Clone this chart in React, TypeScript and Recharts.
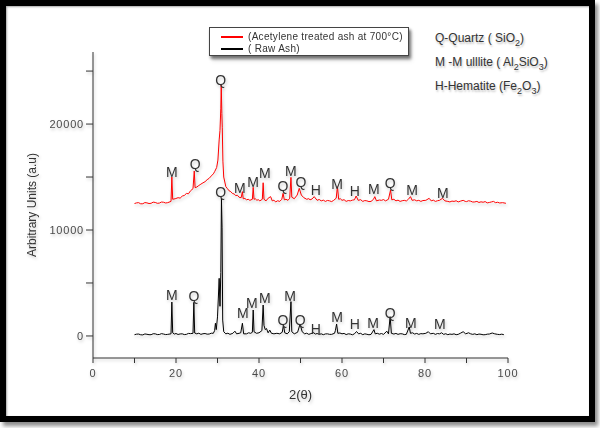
import React from 'react';
import { ComposedChart, Line, XAxis, YAxis, ReferenceDot, Legend, Label } from 'recharts';

// ---- Data (2θ in degrees, intensity in a.u.) ----
const rawX = [10, 10.5, 11, 11.5, 12, 12.5, 13, 13.5, 14, 14.5, 15, 15.5, 16, 16.5, 17, 17.5, 18, 18.8, 19.0, 19.2, 19.6, 20.0, 20.5, 21.0, 21.5, 22.0, 22.5, 23.0, 23.5, 24.1, 24.3, 24.5, 25, 25.5, 26, 26.5, 27, 27.5, 28, 28.5, 29, 29.3, 29.5, 29.7, 30.0, 30.2, 30.4, 30.6, 30.8, 30.95, 31.1, 31.25, 31.5, 32, 32.5, 33, 33.7, 34.2, 34.6, 35.2, 35.6, 36.0, 36.3, 37, 37.5, 38, 38.4, 38.6, 38.8, 39.4, 40, 40.7, 41.0, 41.2, 41.5, 41.8, 42.2, 42.6, 43.0, 43.6, 44.3, 45.0, 45.6, 45.9, 46.2, 46.8, 47.3, 47.7, 47.9, 48.5, 49.3, 49.9, 50.4, 51, 51.5, 52, 52.5, 53.1, 53.6, 54, 54.5, 55, 55.5, 56, 56.5, 57, 57.5, 58.2, 58.4, 58.7, 59.0, 59.5, 60, 60.5, 61, 61.5, 62, 62.5, 63.0, 63.5, 64.0, 64.5, 65, 65.5, 66, 66.5, 67, 67.7, 68.0, 68.5, 69, 69.5, 70, 70.8, 71.2, 71.6, 71.9, 72.5, 73, 73.5, 74, 74.5, 75, 75.5, 76.2, 76.5, 77, 77.5, 78, 78.5, 79, 79.5, 80.2, 80.8, 81.3, 82, 82.5, 83, 83.5, 84.0, 84.5, 85, 85.5, 86, 86.5, 87, 87.5, 88, 88.5, 89.2, 89.8, 90.5, 91, 91.5, 92, 92.5, 93, 93.5, 94, 94.5, 95, 95.5, 96.2, 96.8, 97.5, 98, 98.5, 99];
const rawY = [120, 170, 180, 110, 100, 190, 160, 120, 120, 210, 200, 130, 140, 220, 180, 130, 150, 200, 3200, 300, 180, 230, 140, 190, 200, 130, 150, 240, 220, 250, 3170, 280, 200, 260, 150, 210, 230, 170, 180, 260, 250, 500, 1200, 600, 1800, 3580, 5440, 2800, 6000, 13000, 10200, 1500, 400, 200, 260, 150, 250, 450, 200, 250, 300, 1200, 200, 200, 300, 250, 350, 2450, 400, 250, 300, 500, 2920, 1000, 600, 700, 300, 550, 250, 200, 250, 200, 350, 1040, 300, 200, 400, 3240, 400, 200, 350, 1130, 400, 200, 260, 150, 220, 320, 180, 230, 150, 200, 120, 190, 200, 150, 150, 250, 500, 1130, 250, 280, 200, 240, 130, 200, 180, 110, 200, 420, 200, 250, 120, 200, 160, 110, 150, 600, 200, 250, 170, 230, 150, 450, 200, 1820, 250, 180, 240, 150, 210, 200, 130, 150, 850, 250, 300, 180, 240, 150, 220, 200, 250, 400, 200, 250, 150, 230, 200, 300, 150, 210, 120, 180, 150, 200, 120, 150, 250, 400, 200, 300, 200, 150, 200, 120, 180, 160, 110, 120, 170, 180, 280, 200, 150, 130, 170, 120];

const treatedX = [10, 10.5, 11, 11.5, 12, 12.5, 13, 13.5, 14, 14.5, 15, 15.5, 16, 16.5, 17, 17.5, 18, 18.8, 19.0, 19.2, 19.8, 20.5, 21.0, 21.5, 22.0, 22.5, 23.0, 23.5, 24.1, 24.4, 24.6, 25.0, 25.5, 26.0, 26.5, 27.0, 27.5, 28.0, 28.5, 29.0, 29.3, 29.8, 30.1, 30.4, 30.6, 30.8, 30.9, 31.05, 31.15, 31.3, 31.5, 32.0, 32.4, 32.8, 33.2, 33.6, 34.0, 34.4, 34.8, 35.2, 35.7, 36.0, 36.2, 36.6, 37, 37.4, 37.8, 38.4, 38.6, 38.8, 39.1, 39.5, 39.8, 40.2, 40.8, 41.0, 41.2, 41.7, 42.2, 42.8, 43.2, 43.6, 44, 44.5, 45, 45.5, 45.8, 46.1, 46.5, 47.0, 47.4, 47.7, 47.9, 48.5, 49.2, 49.7, 50.2, 50.8, 51.5, 52.0, 52.3, 52.8, 53.3, 54.0, 54.5, 55, 55.5, 56, 56.5, 57, 57.5, 58, 58.6, 58.9, 59.2, 59.6, 60, 60.5, 61, 61.5, 62, 62.5, 63.0, 63.4, 63.9, 64.5, 65, 65.5, 66, 66.5, 67, 67.6, 67.9, 68.3, 69, 69.5, 70, 70.5, 71.2, 71.7, 72.0, 72.5, 73, 73.5, 74, 74.5, 75, 75.5, 76, 76.5, 76.9, 77.5, 78, 78.5, 79, 79.5, 80.2, 81.0, 81.5, 82, 82.5, 83, 83.5, 84.2, 84.8, 85.5, 86, 86.5, 87, 87.5, 88, 88.5, 89.2, 89.7, 90, 90.5, 91, 91.5, 92, 92.5, 93, 93.5, 94, 94.5, 95, 95.5, 96, 96.5, 97, 97.5, 98, 98.7, 99.5];
const treatedY = [12500, 12560, 12580, 12470, 12480, 12590, 12560, 12500, 12520, 12630, 12600, 12520, 12540, 12640, 12620, 12550, 12580, 12700, 15000, 12900, 12950, 13050, 13010, 13200, 13260, 13450, 13420, 13700, 13900, 15570, 14000, 14050, 14200, 14330, 14450, 14560, 14750, 14880, 15100, 15300, 15500, 15900, 16600, 18500, 19400, 21500, 23700, 21000, 19700, 16500, 15000, 14100, 13900, 13700, 13620, 13450, 13400, 13250, 13280, 13090, 13050, 13620, 12950, 12980, 12850, 12900, 12800, 12900, 14030, 12900, 12950, 12800, 12870, 12750, 12900, 14460, 12900, 12750, 13000, 13150, 12750, 12820, 12650, 12760, 12700, 12900, 13460, 12850, 12900, 12800, 13000, 14970, 13100, 12950, 13300, 13930, 13300, 13050, 12900, 12960, 12850, 12930, 13150, 12800, 12880, 12750, 12820, 12700, 12790, 12750, 12680, 12800, 13000, 14090, 12900, 12950, 12800, 12860, 12700, 12780, 12750, 12820, 12850, 13210, 12800, 12860, 12700, 12780, 12750, 12680, 12700, 12900, 13150, 12750, 12830, 12800, 12870, 12750, 12900, 13770, 12850, 12900, 12750, 12820, 12700, 12760, 12800, 12740, 12900, 13150, 12800, 12850, 12750, 12800, 12700, 12780, 12800, 12990, 12750, 12820, 12700, 12760, 12800, 12990, 12750, 12700, 12650, 12730, 12700, 12760, 12650, 12720, 12800, 12700, 12680, 12760, 12720, 12640, 12650, 12700, 12600, 12660, 12620, 12680, 12560, 12600, 12650, 12700, 12580, 12620, 12550, 12580, 12520];

// Phase labels on peaks
const treatedLabelX = [19.0, 24.6, 30.8, 35.4, 38.6, 41.4, 45.8, 47.7, 50.1, 53.7, 58.8, 63.1, 67.7, 71.6, 76.9, 84.3];
const treatedLabelY = [15470, 16230, 24150, 13960, 14530, 15380, 14150, 15570, 14530, 13770, 14340, 13680, 13870, 14430, 13770, 13490];
const treatedLabelText = ['M', 'Q', 'Q', 'M', 'M', 'M', 'Q', 'M', 'Q', 'H', 'M', 'H', 'M', 'Q', 'M', 'M'];

const rawLabelX = [19.0, 24.3, 30.8, 36.1, 38.3, 41.4, 45.8, 47.5, 49.9, 53.7, 58.8, 63.1, 67.5, 71.6, 76.6, 83.6];
const rawLabelY = [3870, 3770, 13580, 2170, 3110, 3580, 1510, 3770, 1510, 660, 1790, 1130, 1230, 2170, 1230, 1130];
const rawLabelText = ['M', 'Q', 'Q', 'M', 'M', 'M', 'Q', 'M', 'Q', 'H', 'M', 'H', 'M', 'Q', 'M', 'M'];

const xTicks = [0, 10, 20, 30, 40, 50, 60, 70, 80, 90, 100];
const yTicks = [0, 5000, 10000, 15000, 20000, 25000];
const xLabeled = [0, 20, 40, 60, 80, 100];
const yLabeled = [0, 10000, 20000];

const seriesNames = ['(Acetylene treated ash at 700°C)', '( Raw Ash)'];
const seriesColors = ['#ff0000', '#000000'];

const rawData = rawX.map((x, i) => ({ x, y: rawY[i] }));
const treatedData = treatedX.map((x, i) => ({ x, y: treatedY[i] }));
const treatedLabels = treatedLabelX.map((x, i) => ({ x, y: treatedLabelY[i], t: treatedLabelText[i] }));
const rawLabels = rawLabelX.map((x, i) => ({ x, y: rawLabelY[i], t: rawLabelText[i] }));

const FONT = '"Liberation Sans", Arial, sans-serif';
const TICK_FILL = '#4a4a4a';

const XTick = (props: any) => {
  const { x, y, payload } = props;
  if (!xLabeled.includes(payload.value)) return <g />;
  return (
    <text x={x} y={y} dy="0.71em" textAnchor="middle" fill={TICK_FILL} fontSize={11} fontFamily={FONT} letterSpacing={0.8}>
      {payload.value}
    </text>
  );
};

const YTick = (props: any) => {
  const { x, y, payload } = props;
  if (!yLabeled.includes(payload.value)) return <g />;
  return (
    <text x={x} y={y} dy="0.35em" textAnchor="end" fill={TICK_FILL} fontSize={11} fontFamily={FONT} letterSpacing={0.8}>
      {payload.value}
    </text>
  );
};

const peakShape = (t: string) => (props: any) => (
  <text x={props.cx} y={props.cy} dy="0.36em" textAnchor="middle" fill="#333" fontSize={14} fontFamily={FONT}>
    {t}
  </text>
);

const LegendBox = () => (
  <div
    style={{
      width: 200,
      height: 29,
      border: '1px solid #444',
      background: '#fff',
      boxShadow: '2px 3px 3px rgba(0,0,0,0.45)',
      boxSizing: 'border-box',
      fontFamily: FONT,
      fontSize: 10,
      color: '#333',
      padding: '3px 0 0 11px',
      lineHeight: '12px',
    }}
  >
    {seriesNames.map((n, i) => (
      <div key={n} style={{ display: 'flex', alignItems: 'center', whiteSpace: 'nowrap' }}>
        <span style={{ display: 'inline-block', width: 22, height: 1.3, background: seriesColors[i], marginRight: 5 }} />
        <span style={{ letterSpacing: 0.3 }}>{n}</span>
      </div>
    ))}
  </div>
);

const phaseStyle: React.CSSProperties = {
  position: 'absolute',
  left: 435,
  fontFamily: FONT,
  fontSize: 12,
  color: '#333',
  whiteSpace: 'nowrap',
  textShadow: '1px 2px 2px rgba(0,0,0,0.25)',
};
const subStyle: React.CSSProperties = { fontSize: 9, verticalAlign: -4 };

export default function App() {
  return (
    <div style={{ position: 'absolute', left: 0, top: 0, width: 600, height: 428, background: '#fff', overflow: 'hidden' }}>
      <div
        style={{
          position: 'absolute',
          left: 0,
          top: 0,
          width: 595,
          height: 422,
          border: '6px solid #000',
          boxSizing: 'border-box',
          boxShadow: '3px 4px 4px rgba(0,0,0,0.45), inset 1px 1px 2px rgba(0,0,0,0.35)',
        }}
      />
      <div style={{ position: 'absolute', left: 0, top: 0, filter: 'drop-shadow(1px 2px 1.5px rgba(0,0,0,0.22))' }}>
        <ComposedChart width={600} height={428} margin={{ top: 52, right: 92, bottom: 40, left: 33 }}>
          <XAxis
            type="number"
            dataKey="x"
            domain={[0, 100]}
            ticks={xTicks}
            interval={0}
            allowDataOverflow
            stroke="#333"
            tickSize={5}
            tickMargin={6}
            height={30}
            tick={XTick}
          >
            <Label value="2(θ)" position="insideBottom" offset={-11} fill="#333" fontSize={13} fontFamily={FONT} />
          </XAxis>
          <YAxis
            type="number"
            domain={[-2080, 26800]}
            ticks={yTicks}
            interval={0}
            allowDataOverflow
            stroke="#333"
            tickSize={7}
            tickMargin={2}
            width={60}
            tick={YTick}
          >
            <Label
              value="Arbitrary Units (a.u)"
              angle={-90}
              position="insideLeft"
              offset={-1}
              style={{ textAnchor: 'middle' }}
              fill="#333"
              fontSize={12}
              fontFamily={FONT}
            />
          </YAxis>
          <Legend
            layout="vertical"
            align="center"
            verticalAlign="middle"
            wrapperStyle={{ left: 209, top: 27, width: 202, height: 31 }}
            content={() => <LegendBox />}
          />
          <Line
            data={treatedData}
            dataKey="y"
            name={seriesNames[0]}
            stroke={seriesColors[0]}
            strokeWidth={1}
            dot={false}
            isAnimationActive={false}
            type="linear"
          />
          <Line
            data={rawData}
            dataKey="y"
            name={seriesNames[1]}
            stroke={seriesColors[1]}
            strokeWidth={1}
            dot={false}
            isAnimationActive={false}
            type="linear"
          />
          {treatedLabels.map((p, i) => (
            <ReferenceDot key={'t' + i} x={p.x} y={p.y} r={0} shape={peakShape(p.t)} />
          ))}
          {rawLabels.map((p, i) => (
            <ReferenceDot key={'r' + i} x={p.x} y={p.y} r={0} shape={peakShape(p.t)} />
          ))}
        </ComposedChart>
      </div>
      <div style={{ ...phaseStyle, top: 31 }}>
        Q-Quartz ( SiO<sub style={subStyle}>2</sub>)
      </div>
      <div style={{ ...phaseStyle, top: 55 }}>
        M -M ulllite ( Al<sub style={subStyle}>2</sub>SiO<sub style={subStyle}>3</sub>)
      </div>
      <div style={{ ...phaseStyle, top: 79 }}>
        H-Hematite (Fe<sub style={subStyle}>2</sub>O<sub style={subStyle}>3</sub>)
      </div>
    </div>
  );
}
